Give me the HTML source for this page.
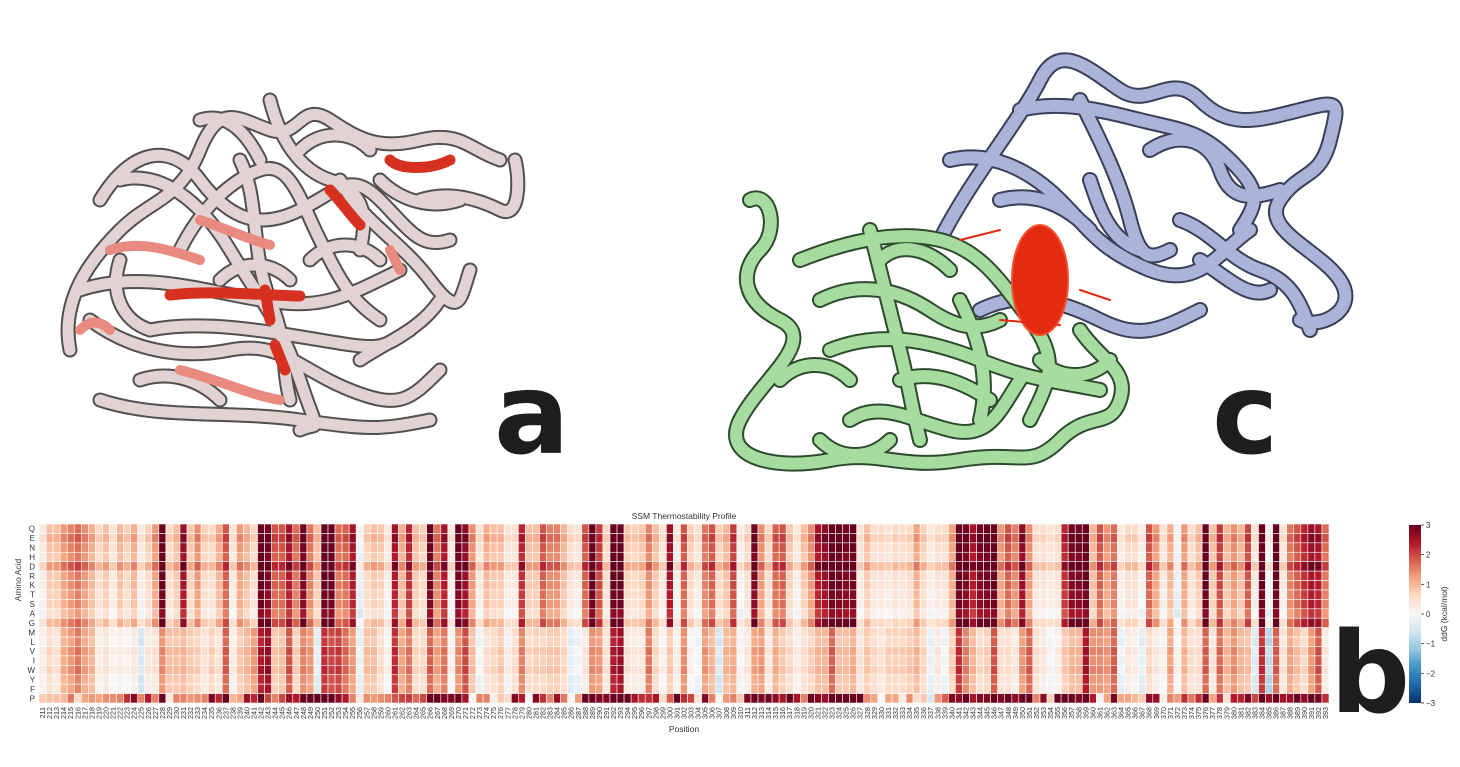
<!DOCTYPE html>
<html><head><meta charset="utf-8"><style>
body{margin:0;background:#fff;width:1460px;height:767px;overflow:hidden;font-family:"Liberation Sans",sans-serif}
svg{display:block}
</style></head><body>
<svg id="root" width="1460" height="767">
<defs>
<g id="aPaths">
<path d="M70 350 C60 300,90 260,120 230 S180 200,200 150 S240 120,270 130 S300 100,330 120 S380 150,420 140 S470 150,500 160"/>
<path d="M80 290 C140 270,200 290,260 300 S340 300,400 270 M100 400 C160 420,230 410,300 420 S380 430,430 420 M120 180 C160 170,200 200,230 250 S280 320,300 380 S320 420,300 430"/>
<path d="M150 330 C200 320,260 330,320 340 S380 350,410 330 M240 160 C260 200,250 250,270 300 S280 360,290 400 M340 180 C360 220,400 240,430 280 S460 300,470 270 M420 200 C450 190,480 200,500 210 S520 180,515 160"/>
<path d="M100 200 C130 150,170 140,200 180 S260 230,300 210 S350 170,380 200 S420 250,450 240 M90 320 C130 350,180 360,230 350 S300 370,350 390 S410 400,440 370 M180 250 C200 210,230 180,260 170 S300 200,320 240 S350 300,380 320 M270 100 C280 140,300 170,330 180 S370 210,360 250 M140 380 C170 370,200 380,220 400 M360 360 C390 340,420 330,440 300"/>
<path d="M200 120 C230 110,250 140,260 160 M300 150 C320 130,350 130,370 150 M380 180 C400 200,430 210,460 200 M120 260 C110 290,120 320,150 330 M220 280 C240 260,270 260,290 280 M310 260 C330 240,360 240,380 260"/>
</g>
<g id="cBlue">
<path d="M940 240 C970 180,1020 120,1040 80 S1090 70,1120 90 S1170 70,1200 100 S1260 120,1300 110 S1340 100,1330 140 S1300 170,1280 200 S1320 250,1340 280 S1320 330,1300 320 M950 160 C990 150,1030 170,1060 200 S1100 250,1150 270 S1220 250,1250 230 M980 310 C1020 290,1060 300,1100 320 S1160 330,1200 310 M1080 100 C1100 140,1120 180,1130 220 S1150 260,1170 250"/>
<path d="M1020 110 C1060 100,1100 110,1140 120 S1200 130,1230 160 S1260 200,1240 230 M1150 150 C1180 130,1210 140,1220 170 S1250 200,1280 190 M1180 220 C1210 230,1230 260,1260 270 S1300 300,1310 330 M1090 180 C1100 210,1110 240,1140 250 M1000 200 C1040 190,1070 210,1090 230 M1200 260 C1230 280,1250 300,1270 290"/>
</g>
<g id="cGreen">
<path d="M750 200 C770 190,780 230,760 250 S740 300,780 320 S760 380,740 420 S780 470,830 460 S900 470,960 460 S1030 470,1060 440 S1110 430,1120 400 S1100 360,1080 330 M800 260 C850 240,900 230,940 240 S1000 280,1030 320 S1050 380,1030 420 M830 350 C880 330,930 340,980 360 S1050 380,1100 390 M850 420 C880 400,910 420,950 430 S1000 410,1020 380 M870 230 C880 270,890 310,900 350 S910 400,920 440"/>
<path d="M820 300 C860 280,900 290,930 310 S980 330,1000 320 M880 260 C900 240,930 250,950 270 M960 300 C980 340,990 380,980 420 M900 380 C930 370,960 380,990 400 M780 380 C800 360,830 360,850 380 M820 440 C840 460,870 460,890 440 M1040 360 C1060 380,1090 380,1110 360"/>
</g>
</defs>
<g fill="none" stroke-linecap="round" stroke-linejoin="round">
<use href="#aPaths" stroke="#505050" stroke-width="15"/>
<use href="#aPaths" stroke="#e2d2d2" stroke-width="11"/>
<path d="M170 295 C210 290,260 295,300 296 M265 290 L270 320 M275 345 L285 370 M330 190 C340 200,350 215,360 225 M390 160 C400 170,430 170,450 160" stroke="#d63020" stroke-width="11"/>
<path d="M110 250 C140 240,170 250,200 260 M200 220 C230 230,250 240,270 245 M180 370 C220 380,250 395,280 400 M390 250 L400 270 M80 330 C90 320,100 320,110 330" stroke="#e88a80" stroke-width="10"/>
</g>
<g fill="none" stroke-linecap="round" stroke-linejoin="round">
<use href="#cBlue" stroke="#3a3f58" stroke-width="16"/>
<use href="#cBlue" stroke="#aab4d8" stroke-width="12"/>
<use href="#cGreen" stroke="#2e4a2e" stroke-width="16"/>
<use href="#cGreen" stroke="#a6dca0" stroke-width="12"/>
<ellipse cx="1040" cy="280" rx="28" ry="55" fill="#e42a10" stroke="#f05030" stroke-width="2"/>
<path d="M960 240 L1000 230 M1080 290 L1110 300 M1000 320 L1060 325" stroke="#e42a10" stroke-width="2"/>
</g>
<text x="494" y="453" font-size="112" font-weight="bold" fill="#1e1e1e" font-family="'DejaVu Sans',sans-serif">a</text>
<text x="1212" y="453" font-size="112" font-weight="bold" fill="#1e1e1e" font-family="'DejaVu Sans',sans-serif">c</text>
<text x="1330" y="712" font-size="112" font-weight="bold" fill="#1e1e1e" font-family="'DejaVu Sans',sans-serif">b</text>
<g id="heat"></g>
</svg>
<script>
const aminoAcids=["Q","E","N","H","D","R","K","T","S","A","G","M","L","V","I","W","Y","F","P"];
const positions=[];for(let p=211;p<=393;p++)positions.push(p);
const topVals=[.2,.8,.8,1.2,1.4,1.6,1.3,1,.5,.8,.3,.9,.6,1,.2,.6,1.2,3,.5,.8,2.5,.7,1.3,.6,.5,1,1.8,.3,1.2,.9,.5,3,2.8,1.8,1.8,2.4,1.6,2.8,1.5,.8,3,3,1.6,1.7,2.4,-.2,.6,.8,.7,.2,2.4,1,2.2,.8,.6,2.9,1.5,2.4,.2,2.9,2.6,1.3,.3,1,.8,.8,.3,.3,2.2,.8,.8,1.8,1.4,1.4,.9,.4,.3,1.8,3,2,.5,3,3,.7,.6,.7,1.4,.8,.3,2.5,.2,1.8,.6,.3,1.5,1.8,.6,.9,2,.1,.5,2.8,1.3,.5,1.7,1.8,.7,.2,.8,1.3,2.4,2.6,3,2.9,2.8,2.9,.3,.8,.4,.4,.3,.5,.4,.5,1.1,.6,.2,.4,.4,1.1,3,2.8,2.4,2.8,2.9,3,1.2,1.8,1.4,2.6,1.3,.4,.4,.3,.4,2.2,2.8,2.8,3,.9,1.8,1.2,1.6,.2,.5,.5,.1,1.8,1.2,.3,1,-.2,1.2,.4,.8,3,.8,2,.9,1.3,.9,1.9,.3,3,0,3,.3,1.5,1.8,2.2,2.5,2.4,1.6];
const botVals=[.2,.6,.4,1.1,1.3,1.6,1.2,1,.2,.4,.1,.2,.1,.3,-.5,.3,.4,1.4,.9,.9,1,.8,.7,.4,.7,.4,1.8,.2,.8,1,1.3,2.4,2.6,.8,.9,1.9,.7,1.5,1.3,-.3,2.2,2,2.1,1.7,1.3,-.2,.9,.9,.5,.1,2.2,1.2,1.6,.6,.6,1.8,1.2,1.6,.1,1.4,2,.9,-.1,.5,.6,.8,.2,.5,1.5,.6,.7,.7,.8,.8,.6,-.3,-.1,.3,1.4,1.3,.4,2.4,2.6,.4,.3,.3,1.6,.6,.1,.8,.2,1.4,.1,-.1,1.3,1,-.5,1,1.1,0,.3,1.2,1.3,.3,1.1,.8,.6,.2,.5,.7,1,1,1.8,.9,.9,1.1,.4,.8,.6,.4,.7,.7,.7,.8,1,.6,-.2,.3,-.1,.7,2.2,1.5,1,.6,.7,1.9,.5,.5,.3,1.3,1.8,.5,.3,0,.2,.8,1,1,2.5,1.4,1.4,1.3,1.8,-.2,.3,.2,-.3,.6,.3,.1,1.2,.1,1,.5,.5,1.8,.4,1.7,1,1.4,1,.9,-.4,2.2,-.8,1.8,.4,1.2,.9,.6,1.3,1.9,.3];
const pVals=[.8,.9,.9,1,1.6,.6,1.2,1.3,1.2,1.4,1.4,1.5,2.2,2.8,1.5,2.4,1.5,3,.3,1.5,1.5,1.3,1.4,1.5,2.8,2.3,3,1,1.2,2.6,2.3,3,2,1.5,2,2.6,2.4,3,3,3,3,3,2.7,2.4,1.5,.3,1.4,1.3,1.4,1.5,1.9,2,2.1,1.7,2,3,3,2.8,2.8,3,2.5,.1,1.5,1.5,.2,.8,.6,2.8,2.4,0,2.8,2.2,1.5,2.6,1.6,.1,1.3,3,3,2.8,2.8,3,3,3,2.5,2.2,2.2,2.5,.6,1.8,3,2.2,2,.4,2.8,1.5,.1,1.3,1.5,.8,2.8,3,2.8,2.9,2.7,2.5,3,2.5,1.5,3,2.8,2.6,3,3,3,3,3,1.4,1.2,0,1.2,1.2,.3,1.4,.6,.8,-.5,1.3,1.8,2.8,2.7,3,2.5,2.8,2.8,3,2.8,3,2.7,3,3,1.5,2.7,.7,3,3,3,2.8,3,2.4,.1,1.2,2.9,1.2,1.2,1,.8,2.7,2.6,.2,1.5,1.3,2.2,1.6,2.2,3,1.2,2.2,.5,2.4,2.3,2.8,2,3,2.6,3,2.5,2.6,3,2.7,3,2.9,2.2];
const rowBias=[.1,.3,.1,0,.5,0,0,-.1,-.1,-.3,.2,0,-.1,.1,0,.1,-.1,-.1,0];
const cbTicks=[3,2,1,0,-1,-2,-3];
const stops=["#053061","#2166ac","#4393c3","#92c5de","#d1e5f0","#f7f7f7","#fddbc7","#f4a582","#d6604d","#b2182b","#67001f"];
function hex(c){return [1,3,5].map(i=>parseInt(c.substr(i,2),16));}
function color(v){let t=(Math.max(-3,Math.min(3,v))+3)/6*(stops.length-1);let i=Math.min(stops.length-2,Math.floor(t));let f=t-i;let a=hex(stops[i]),b=hex(stops[i+1]);return "rgb("+a.map((x,k)=>Math.round(x+(b[k]-x)*f)).join(",")+")";}
const X0=39,X1=1329,Y0=524,Y1=703;
const cw=(X1-X0)/positions.length,ch=(Y1-Y0)/aminoAcids.length;
const xs=i=>X0+i*cw, ys=j=>Y0+j*ch;
const NS="http://www.w3.org/2000/svg";
const g=document.getElementById("heat");
function mk(t,a,p){const e=document.createElementNS(NS,t);for(const k in a)e.setAttribute(k,a[k]);(p||g).appendChild(e);return e;}
positions.forEach((p,i)=>{aminoAcids.forEach((aa,j)=>{
 let v=j===18?pVals[i]:(j<11?topVals[i]:botVals[i])+rowBias[j];
 const r=mk("rect",{x:xs(i),y:ys(j),width:cw,height:ch,fill:color(v),stroke:"#fff","stroke-width":0.6});
 
 
});
 const t=mk("text",{x:0,y:0,"font-size":7.2,fill:"#333","text-anchor":"end",transform:`translate(${xs(i)+cw/2+2.5},${Y1+4}) rotate(-90)`});
 t.textContent=p;
 
 
});
aminoAcids.forEach((aa,j)=>{const t=mk("text",{x:35,y:ys(j)+ch/2+3,"font-size":8,fill:"#333","text-anchor":"end"});t.textContent=aa;
 
 });
let t=mk("text",{x:684,y:519,"font-size":8.5,fill:"#333","text-anchor":"middle"});t.textContent="SSM Thermostability Profile";

t=mk("text",{x:684,y:732,"font-size":8.5,fill:"#333","text-anchor":"middle"});t.textContent="Position";

t=mk("text",{x:0,y:0,"font-size":8.5,fill:"#333","text-anchor":"middle",transform:"translate(21,580) rotate(-90)"});t.textContent="Amino Acid";

const CX=1409,CW=12,CY0=525,CY1=703;
const defs=mk("defs",{});const lg=mk("linearGradient",{id:"cbg",x1:0,y1:1,x2:0,y2:0},defs);
stops.forEach((s,k)=>mk("stop",{offset:k/(stops.length-1),"stop-color":s},lg));
const cb=mk("rect",{x:CX,y:CY0,width:CW,height:CY1-CY0,fill:"url(#cbg)"});

const cy=v=>CY0+(3-v)/6*(CY1-CY0);
cbTicks.forEach(v=>{mk("line",{x1:CX+CW,x2:CX+CW+3,y1:cy(v),y2:cy(v),stroke:"#333","stroke-width":.8});
 const tt=mk("text",{x:CX+CW+5,y:cy(v)+3,"font-size":8,fill:"#333"});tt.textContent=v<0?"\u2212"+(-v):v;
 });
t=mk("text",{x:0,y:0,"font-size":8.5,fill:"#333","text-anchor":"middle",transform:"translate(1447,614) rotate(-90)"});t.textContent="ddG (kcal/mol)";

</script>
</body></html>
